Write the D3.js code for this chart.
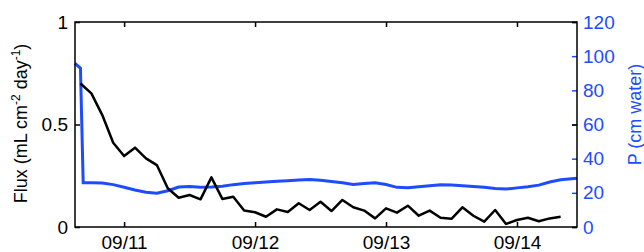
<!DOCTYPE html>
<html>
<head>
<meta charset="utf-8">
<script src="https://cdn.jsdelivr.net/npm/d3@7"></script>
<style>
  body { margin: 0; background: #fff; }
  svg { display: block; font-family: "Liberation Sans", Arial, sans-serif; }
</style>
</head>
<body>
<svg id="chart"></svg>
<script>
// Flux samples, every 2 hours from 09/10 16:00 (mL cm^-2 day^-1)
const fluxStart = [2014, 8, 10, 16];
const fluxValues = [
  0.700, 0.652, 0.546, 0.411,
  0.346, 0.387, 0.335, 0.302, 0.189, 0.143, 0.156, 0.135, 0.242, 0.137, 0.148, 0.080,
  0.072, 0.050, 0.086, 0.073, 0.116, 0.083, 0.123, 0.078, 0.132, 0.096, 0.080, 0.042,
  0.091, 0.070, 0.104, 0.055, 0.080, 0.045, 0.040, 0.096, 0.055, 0.026, 0.083, 0.015,
  0.034, 0.045, 0.028, 0.042, 0.050
];

// Pressure (cm water): first hours, then every 2 hours from 09/10 18:00
const pHead = [[15, 0, 95.7], [16, 0, 93.0], [16, 30, 25.9]];
const pStart = [2014, 8, 10, 18];
const pValues = [
  25.9, 25.7, 24.8,
  23.3, 21.7, 20.3, 19.8, 21.2, 23.4, 23.7, 23.3, 23.4, 23.8, 24.8, 25.4,
  25.9, 26.3, 26.8, 27.1, 27.5, 27.8, 27.4, 26.7, 25.9, 24.9, 25.5, 25.9,
  24.9, 23.2, 23.0, 23.6, 24.2, 24.8, 24.6, 24.2, 23.7, 23.2, 22.6, 22.2,
  22.9, 23.6, 24.5, 26.3, 27.6, 28.2
];
const pTail = [[14, 11, 0, 28.5]];

const fluxTicks = [0, 0.5, 1];
const pTicks = [0, 20, 40, 60, 80, 100, 120];
const dayTicks = [11, 12, 13, 14];

const width = 644, height = 252;
const margin = { top: 22, right: 67, bottom: 25, left: 75 };
const blue = '#1c4cff';

const fluxData = fluxValues.map((v, i) => ({
  t: new Date(fluxStart[0], fluxStart[1], fluxStart[2], fluxStart[3] + 2 * i), v
}));
const pData = [
  ...pHead.map(d => ({ t: new Date(2014, 8, 10, d[0], d[1]), v: d[2] })),
  ...pValues.map((v, i) => ({ t: new Date(pStart[0], pStart[1], pStart[2], pStart[3] + 2 * i), v })),
  ...pTail.map(d => ({ t: new Date(2014, 8, d[0], d[1], d[2]), v: d[3] }))
];

const svg = d3.select('#chart').attr('width', width).attr('height', height);

const x = d3.scaleTime()
  .domain([new Date(2014, 8, 10, 15), new Date(2014, 8, 14, 11)])
  .range([margin.left, width - margin.right]);
const y = d3.scaleLinear().domain([0, 1]).range([height - margin.bottom, margin.top]);
const y2 = d3.scaleLinear().domain([0, 120]).range([height - margin.bottom, margin.top]);

const tickDates = dayTicks.map(d => new Date(2014, 8, d));

// lines
svg.append('path')
  .datum(pData)
  .attr('fill', 'none')
  .attr('stroke', blue)
  .attr('stroke-width', 3)
  .attr('d', d3.line().x(d => x(d.t)).y(d => y2(d.v)));

svg.append('path')
  .datum(fluxData)
  .attr('fill', 'none')
  .attr('stroke', '#000')
  .attr('stroke-width', 2.5)
  .attr('stroke-linejoin', 'round')
  .attr('d', d3.line().x(d => x(d.t)).y(d => y(d.v)));

// right axis (blue)
const rightAxis = svg.append('g')
  .attr('transform', `translate(${width - margin.right},0)`)
  .call(d3.axisRight(y2).tickValues(pTicks).tickSize(-5).tickPadding(6).tickSizeOuter(0));
rightAxis.select('.domain').remove();
rightAxis.selectAll('line').attr('stroke', blue);
rightAxis.selectAll('text').attr('fill', blue).style('font-size', '19px');

// mirrored black ticks on right
const rightMirror = svg.append('g')
  .attr('transform', `translate(${width - margin.right},0)`)
  .call(d3.axisLeft(y).tickValues(fluxTicks).tickSize(5).tickFormat('').tickSizeOuter(0));
rightMirror.select('.domain').remove();

// left axis
const leftAxis = svg.append('g')
  .attr('transform', `translate(${margin.left},0)`)
  .call(d3.axisLeft(y).tickValues(fluxTicks).tickSize(-5).tickPadding(7).tickSizeOuter(0)
    .tickFormat(d => d3.format('')(d)));
leftAxis.select('.domain').remove();
leftAxis.selectAll('text').style('font-size', '19px');

// bottom axis
const bottomAxis = svg.append('g')
  .attr('transform', `translate(0,${height - margin.bottom})`)
  .call(d3.axisBottom(x).tickValues(tickDates).tickSize(-5).tickPadding(8.5).tickSizeOuter(0)
    .tickFormat(d3.timeFormat('%m/%d')));
bottomAxis.select('.domain').remove();
bottomAxis.selectAll('text').style('font-size', '19px');

// top mirrored ticks
const topAxis = svg.append('g')
  .attr('transform', `translate(0,${margin.top})`)
  .call(d3.axisTop(x).tickValues(tickDates).tickSize(-5).tickFormat('').tickSizeOuter(0));
topAxis.select('.domain').remove();

svg.selectAll('.tick line').attr('stroke-width', 1.5);
rightAxis.selectAll('line').attr('stroke-width', 1.5);

// box
svg.append('rect')
  .attr('x', margin.left)
  .attr('y', margin.top)
  .attr('width', width - margin.left - margin.right)
  .attr('height', height - margin.top - margin.bottom)
  .attr('fill', 'none')
  .attr('stroke', '#000')
  .attr('stroke-width', 1.5);

// axis titles
const yTitle = svg.append('text')
  .attr('transform', `translate(27,${(margin.top + height - margin.bottom) / 2 - 1}) rotate(-90)`)
  .attr('text-anchor', 'middle')
  .style('font-size', '18px')
  .attr('fill', '#000');
yTitle.append('tspan').text('Flux (mL cm');
yTitle.append('tspan').attr('dy', -7).style('font-size', '12px').text('-2');
yTitle.append('tspan').attr('dy', 7).text(' day');
yTitle.append('tspan').attr('dy', -7).style('font-size', '12px').text('-1');
yTitle.append('tspan').attr('dy', 7).text(')');

svg.append('text')
  .attr('transform', `translate(641,${(margin.top + height - margin.bottom) / 2 - 10}) rotate(-90)`)
  .attr('text-anchor', 'middle')
  .style('font-size', '18px')
  .attr('fill', blue)
  .text('P (cm water)');
</script>
</body>
</html>
